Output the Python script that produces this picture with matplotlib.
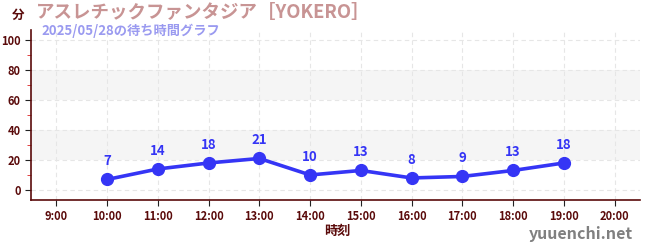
import matplotlib
matplotlib.use("Agg")
import matplotlib.pyplot as plt
from matplotlib.ticker import MultipleLocator

plt.rcParams['font.family'] = ['Noto Sans CJK JP', 'DejaVu Sans']

hours = [10, 11, 12, 13, 14, 15, 16, 17, 18, 19]
waits = [7, 14, 18, 21, 10, 13, 8, 9, 13, 18]
xtick_hours = list(range(9, 21))
xtick_labels = [f"{h}:00" for h in xtick_hours]
yticks = [0, 20, 40, 60, 80, 100]
title = "アスレチックファンタジア［YOKERO］"
subtitle = "2025/05/28の待ち時間グラフ"

axis_col = '#5a0a0a'
line_col = '#3535f5'

fig = plt.figure(figsize=(6.5, 2.5), dpi=100)
ax = fig.add_axes([31/650, 1-200/250, (640-31)/650, (200-30)/250])
ax.set_xlim(8.5, 20.5)
ax.set_ylim(-6.7, 106.7)

for lo, hi in [(20, 40), (60, 80)]:
    ax.axhspan(lo, hi, color='#f5f5f5', zorder=0, lw=0)

ax.set_yticks(yticks)
ax.yaxis.set_minor_locator(MultipleLocator(10))
ax.set_xticks(xtick_hours)
ax.set_xticklabels(xtick_labels)
ax.grid(True, which='major', color='#e6e6e6', linestyle=(0, (4, 3)), lw=0.8, zorder=1)

for s in ['top', 'right']:
    ax.spines[s].set_visible(False)
for s in ['left', 'bottom']:
    ax.spines[s].set_color(axis_col)
    ax.spines[s].set_linewidth(1.2)

ax.tick_params(axis='both', which='major', colors='#222222', labelcolor=axis_col,
               labelsize=8, length=4)
ax.tick_params(axis='y', which='minor', colors='#dd2222', length=3)
for lbl in ax.get_xticklabels() + ax.get_yticklabels():
    lbl.set_fontweight('bold')

ax.plot(hours, waits, color=line_col, lw=2.6, marker='o', ms=8.5, zorder=3)
for h, w in zip(hours, waits):
    ax.annotate(str(w), (h, w), xytext=(0, 8), textcoords='offset points',
                ha='center', va='bottom', color=line_col, fontsize=9.5,
                fontweight='bold', zorder=4)

fig.text(18/650, 1-15/250, "分", color=axis_col, fontsize=9, fontweight='bold',
         ha='center', va='center')
fig.text(36/650, 1-13/250, title, color='#c89494', fontsize=13.3, fontweight='bold',
         ha='left', va='center')
fig.text(41/650, 1-31/250, subtitle, color='#9a9af0', fontsize=9.5, fontweight='bold',
         ha='left', va='center')
fig.text(337/650, 1-231/250, "時刻", color=axis_col, fontsize=9.5, fontweight='bold',
         ha='center', va='center')
fig.text(633/650, 1-234/250, "yuuenchi.net", color='#808080', fontsize=11.5,
         fontweight='bold', ha='right', va='center')

fig.savefig("out.png", dpi=100)
